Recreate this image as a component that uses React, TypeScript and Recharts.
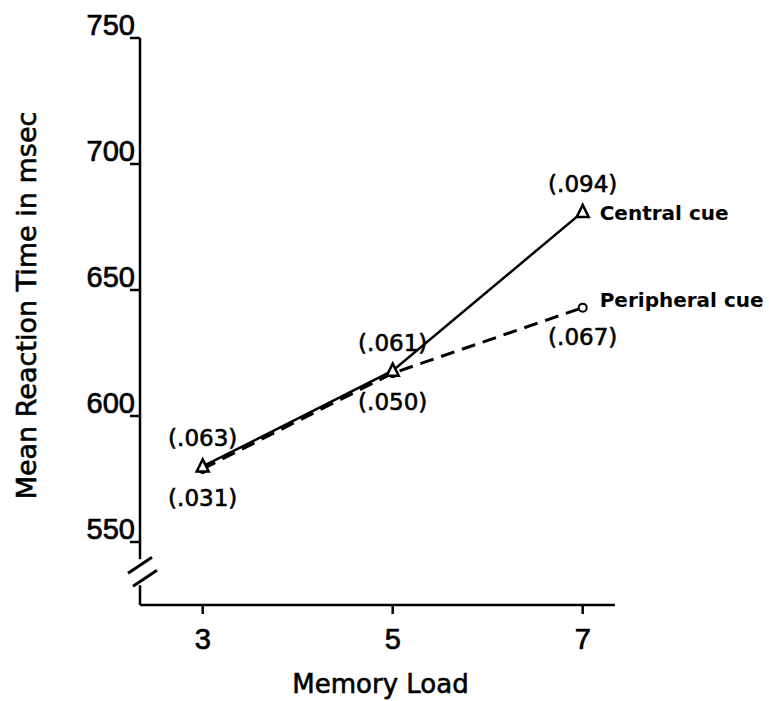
import { LineChart, Line, XAxis, YAxis, LabelList, ReferenceDot } from 'recharts';

const loads = [3, 5, 7];
const centralRT = [580, 618, 681];
const peripheralRT = [579, 617, 643];
const centralErr = ['(.063)', '(.061)', '(.094)'];
const peripheralErr = ['(.031)', '(.050)', '(.067)'];
const seriesNames = ['Central cue', 'Peripheral cue'];
const yTicks = [550, 600, 650, 700, 750];
const xTicks = [3, 5, 7];
const breakAt = 538;

const data = loads.map((load, i) => ({
  load,
  central: centralRT[i],
  peripheral: peripheralRT[i],
}));

const NUM_FONT = '"Liberation Sans", Arial, sans-serif';
const FONT = '"DejaVu Sans", Verdana, sans-serif';

function TriangleDot({ cx, cy }: any) {
  if (cx == null || cy == null) return null;
  return (
    <path
      d={`M${cx},${cy - 7} L${cx + 6},${cy + 5} L${cx - 6},${cy + 5} Z`}
      fill="#fff"
      stroke="#000"
      strokeWidth={2.5}
    />
  );
}

function CircleDot({ cx, cy }: any) {
  if (cx == null || cy == null) return null;
  return <circle cx={cx} cy={cy} r={4} fill="#fff" stroke="#000" strokeWidth={2} />;
}

function YTick({ x, y, payload }: any) {
  return (
    <g>
      <line x1={x - 10} y1={y} x2={x} y2={y} stroke="#000" strokeWidth={2.5} />
      <text
        x={x - 5}
        y={y - 3}
        textAnchor="end"
        fontSize={29}
        fontFamily={NUM_FONT}
        fill="#000"
        stroke="#000"
        strokeWidth={0.7}
      >
        {payload.value}
      </text>
    </g>
  );
}

function XTick({ x, y, payload }: any) {
  return (
    <g>
      <line x1={x} y1={y} x2={x} y2={y + 9} stroke="#000" strokeWidth={2.5} />
      <text
        x={x}
        y={y + 44}
        textAnchor="middle"
        fontSize={29}
        fontFamily={NUM_FONT}
        fill="#000"
        stroke="#000"
        strokeWidth={0.7}
      >
        {payload.value}
      </text>
    </g>
  );
}

function AxisBreak({ cx, cy }: any) {
  if (cx == null || cy == null) return null;
  return (
    <g>
      <rect x={cx - 4} y={cy - 13} width={8} height={26} fill="#fff" />
      <line x1={cx - 12} y1={cy + 1} x2={cx + 12} y2={cy - 15} stroke="#000" strokeWidth={3} />
      <line x1={cx - 7} y1={cy + 14} x2={cx + 17} y2={cy - 2} stroke="#000" strokeWidth={3} />
    </g>
  );
}

function errLabel(texts: string[], above: boolean) {
  return ({ x, y, index }: any) => (
    <text
      x={x}
      y={above ? y - 20 : y + 37}
      textAnchor="middle"
      fontSize={23}
      fontFamily={FONT}
      fill="#000"
      stroke="#000"
      strokeWidth={0.6}
    >
      {texts[index]}
    </text>
  );
}

function nameLabel(name: string, dy: number) {
  return ({ x, y, index }: any) =>
    index === loads.length - 1 ? (
      <text x={x + 17} y={y + dy} fontSize={20} fontWeight="bold" fontFamily={FONT} fill="#000">
        {name}
      </text>
    ) : null;
}

function YLabel({ viewBox }: any) {
  const x = viewBox.x + 16;
  const y = viewBox.y + viewBox.height / 2 - 16;
  return (
    <text
      x={x}
      y={y}
      transform={`rotate(-90, ${x}, ${y})`}
      textAnchor="middle"
      dominantBaseline="central"
      fontSize={27}
      fontFamily={FONT}
      fill="#000"
      stroke="#000"
      strokeWidth={0.6}
    >
      Mean Reaction Time in msec
    </text>
  );
}

function XLabel({ viewBox }: any) {
  const x = viewBox.x + viewBox.width / 2 + 3;
  return (
    <text
      x={x}
      y={viewBox.y + 88}
      textAnchor="middle"
      fontSize={26}
      fontFamily={FONT}
      fill="#000"
      stroke="#000"
      strokeWidth={0.6}
    >
      Memory Load
    </text>
  );
}

export default function App() {
  return (
    <div style={{ position: 'absolute', left: 0, top: 0, background: '#fff' }}>
      <LineChart width={769} height={701} data={data} margin={{ top: 38, right: 154, left: 10, bottom: 46 }}>
        <XAxis
          dataKey="load"
          type="number"
          domain={[2.34, 7.34]}
          ticks={xTicks}
          tick={<XTick />}
          tickLine={false}
          tickSize={0}
          tickMargin={0}
          axisLine={{ stroke: '#000', strokeWidth: 2.5 }}
          height={50}
          label={<XLabel />}
        />
        <YAxis
          type="number"
          domain={[525, 750]}
          ticks={yTicks}
          tick={<YTick />}
          tickLine={false}
          tickSize={0}
          tickMargin={0}
          axisLine={{ stroke: '#000', strokeWidth: 2.5 }}
          width={130}
          label={<YLabel />}
        />
        <Line
          dataKey="peripheral"
          stroke="#000"
          strokeWidth={3}
          strokeDasharray="14 8"
          dot={<CircleDot />}
          activeDot={false}
          isAnimationActive={false}
        >
          <LabelList dataKey="peripheral" content={errLabel(peripheralErr, false)} />
          <LabelList dataKey="peripheral" content={nameLabel(seriesNames[1], -1)} />
        </Line>
        <Line
          dataKey="central"
          stroke="#000"
          strokeWidth={2.5}
          dot={<TriangleDot />}
          activeDot={false}
          isAnimationActive={false}
        >
          <LabelList dataKey="central" content={errLabel(centralErr, true)} />
          <LabelList dataKey="central" content={nameLabel(seriesNames[0], 8)} />
        </Line>
        <ReferenceDot x={2.34} y={breakAt} ifOverflow="visible" shape={<AxisBreak />} />
      </LineChart>
    </div>
  );
}
